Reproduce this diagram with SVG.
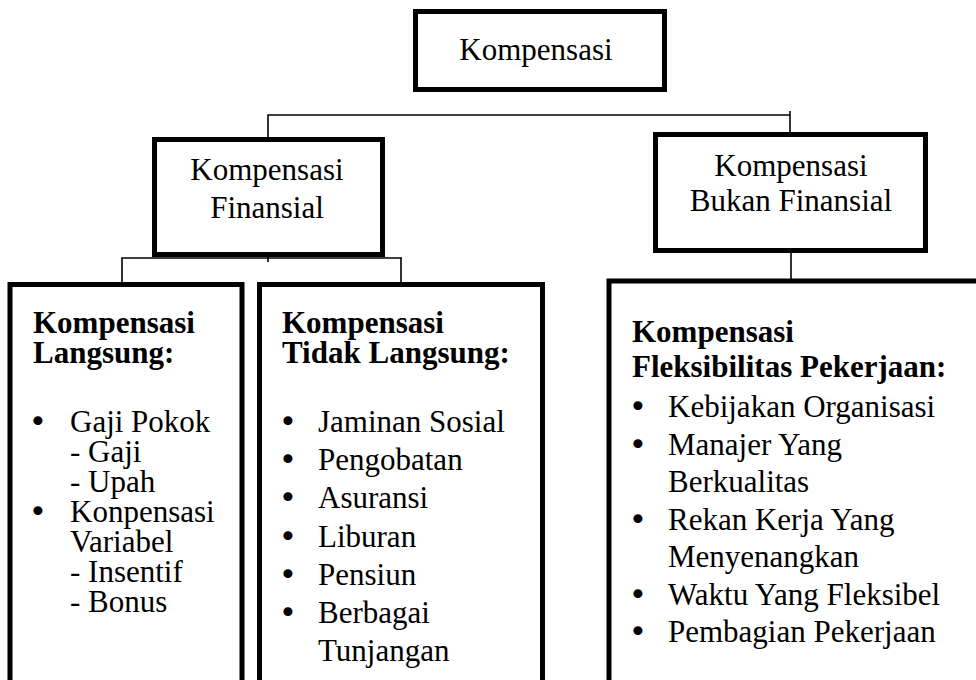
<svg xmlns="http://www.w3.org/2000/svg" width="976" height="680" viewBox="0 0 976 680">
<style>
.box{fill:#fff;stroke:#000;stroke-width:5}
.ln{stroke:#000;stroke-width:1.6;fill:none}
text{font-family:"Liberation Serif","Times New Roman",serif;font-size:31px;fill:#000}
.c{text-anchor:middle}
.b{font-weight:bold}
.bl{text-anchor:middle;font-family:"DejaVu Sans",sans-serif}
</style>
<rect width="976" height="680" fill="#fff"/>
<g id="connectors">
<line class="ln" x1="523" y1="70" x2="523" y2="92"/>
<polyline class="ln" points="268,137 268,115 790,115"/>
<line class="ln" x1="790" y1="111" x2="790" y2="133"/>
<line class="ln" x1="268" y1="235" x2="268" y2="262"/>
<polyline class="ln" points="122,282 122,258 402,258"/>
<line class="ln" x1="401" y1="258" x2="401" y2="282"/>
<line class="ln" x1="791" y1="235" x2="791" y2="279"/>
</g>
<g id="kompensasi">
<rect class="box" x="415.5" y="11.5" width="249" height="78"/>
<text class="c" x="536" y="60">Kompensasi</text>
</g>
<g id="finansial">
<rect class="box" x="154.5" y="139.5" width="228" height="115"/>
<text class="c" x="267" y="180">Kompensasi</text>
<text class="c" x="267" y="218">Finansial</text>
</g>
<g id="bukan-finansial">
<rect class="box" x="655.5" y="134.5" width="270" height="116"/>
<text class="c" x="791" y="176">Kompensasi</text>
<text class="c" x="791" y="211">Bukan Finansial</text>
</g>
<g id="langsung">
<rect class="box" x="10" y="284.5" width="232" height="500"/>
<text class="b" x="33" y="333">Kompensasi</text>
<text class="b" x="33" y="363">Langsung:</text>
<text class="bl" x="38" y="432">•</text>
<text x="70" y="432">Gaji Pokok</text>
<text x="70" y="462">- Gaji</text>
<text x="70" y="492">- Upah</text>
<text class="bl" x="38" y="522">•</text>
<text x="70" y="522">Konpensasi</text>
<text x="70" y="552">Variabel</text>
<text x="70" y="582">- Insentif</text>
<text x="70" y="612">- Bonus</text>
</g>
<g id="tidak-langsung">
<rect class="box" x="259.5" y="284.5" width="283" height="500"/>
<text class="b" x="282" y="333">Kompensasi</text>
<text class="b" x="282" y="363">Tidak Langsung:</text>
<text class="bl" x="288" y="432">•</text>
<text x="318" y="432">Jaminan Sosial</text>
<text class="bl" x="288" y="470">•</text>
<text x="318" y="470">Pengobatan</text>
<text class="bl" x="288" y="508">•</text>
<text x="318" y="508">Asuransi</text>
<text class="bl" x="288" y="547">•</text>
<text x="318" y="547">Liburan</text>
<text class="bl" x="288" y="585">•</text>
<text x="318" y="585">Pensiun</text>
<text class="bl" x="288" y="623">•</text>
<text x="318" y="623">Berbagai</text>
<text x="318" y="661">Tunjangan</text>
</g>
<g id="bukan-finansial-detail">
<rect class="box" x="609" y="281" width="420" height="500"/>
<text class="b" x="632" y="342">Kompensasi</text>
<text class="b" x="632" y="377">Fleksibilitas Pekerjaan:</text>
<text class="bl" x="638" y="417">•</text>
<text x="668" y="417">Kebijakan Organisasi</text>
<text class="bl" x="638" y="455">•</text>
<text x="668" y="455">Manajer Yang</text>
<text x="668" y="492">Berkualitas</text>
<text class="bl" x="638" y="530">•</text>
<text x="668" y="530">Rekan Kerja Yang</text>
<text x="668" y="567">Menyenangkan</text>
<text class="bl" x="638" y="605">•</text>
<text x="668" y="605">Waktu Yang Fleksibel</text>
<text class="bl" x="638" y="642">•</text>
<text x="668" y="642">Pembagian Pekerjaan</text>
</g>
</svg>
